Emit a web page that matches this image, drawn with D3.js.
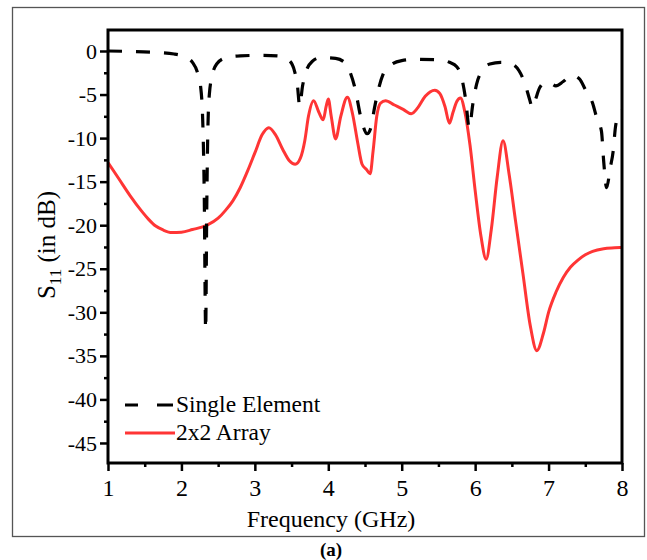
<!DOCTYPE html>
<html>
<head>
  <meta charset="utf-8">
  <title>S11</title>
  <style>
    body { margin: 0; background: #fff; }
    text { font-family: "Liberation Serif", "Times New Roman", serif; fill: #000; }
  </style>
</head>
<body>
<script src="https://d3js.org/d3.v7.min.js"></script>
<script>
  // single element, black dashed
  var singleFreq = [1.0, 1.3, 1.6, 1.9, 2.05, 2.15, 2.22, 2.26, 2.29, 2.31, 2.33, 2.345, 2.36, 2.38, 2.42, 2.48,
    2.6, 2.8, 3.1, 3.35, 3.48, 3.54, 3.58, 3.61, 3.65, 3.7, 3.78, 3.9, 4.1, 4.22, 4.3, 4.37, 4.44, 4.53,
    4.58, 4.63, 4.68, 4.75, 4.85, 5.0, 5.2, 5.5, 5.65, 5.75, 5.82, 5.87, 5.92, 5.97, 6.02, 6.1, 6.2, 6.35,
    6.5, 6.6, 6.68, 6.74, 6.78, 6.82, 6.88, 6.96, 7.03, 7.1, 7.2, 7.32, 7.42, 7.5, 7.6, 7.66, 7.72, 7.75,
    7.79, 7.84, 7.88, 7.91, 7.95, 8.0];
  var singleDb = [0, -0.05, -0.15, -0.35, -0.7, -1.3, -2.5, -4.0, -8, -16, -32, -18, -9, -5, -2.8, -1.5,
    -0.8, -0.55, -0.5, -0.6, -1.2, -2.3, -4, -6.3, -4, -2.3, -1.2, -0.75, -0.85, -1.3, -2.5, -4.5, -7.5, -9.5,
    -8.8, -6.5, -4.5, -2.6, -1.6, -1.1, -0.95, -1.0, -1.3, -1.8, -3.2, -5.5, -8.8, -6, -3.8, -2.2, -1.5, -1.3,
    -1.5, -2.3, -3.8, -5.5, -6.5, -5.6, -4.2, -3.6, -3.7, -4.0, -3.5, -2.8, -3.2, -4.4, -6.0, -7.8, -9.2, -12.6,
    -15.7, -13.4, -11.5, -8.8, -7.4, -6.8];

  // 2x2 array, red solid
  var arrayFreq = [1.0, 1.15, 1.3, 1.45, 1.55, 1.65, 1.75, 1.87, 2.0, 2.15, 2.35, 2.5, 2.6, 2.7, 2.8, 2.9, 3.0, 3.1,
    3.19, 3.28, 3.38, 3.47, 3.55, 3.62, 3.68, 3.73, 3.8, 3.87, 3.93, 3.97, 4.0, 4.04, 4.1, 4.17, 4.26, 4.33,
    4.4, 4.46, 4.52, 4.57, 4.61, 4.66, 4.71, 4.78, 4.9, 5.02, 5.13, 5.22, 5.32, 5.45, 5.52, 5.59, 5.65, 5.7,
    5.75, 5.8, 5.86, 5.93, 6.0, 6.08, 6.15, 6.22, 6.3, 6.38, 6.46, 6.55, 6.65, 6.75, 6.84, 6.93, 7.0, 7.1,
    7.2, 7.3, 7.4, 7.5, 7.6, 7.75, 7.9, 8.0];
  var arrayDb = [-12.8, -14.7, -16.6, -18.3, -19.3, -20.1, -20.55, -20.85, -20.8, -20.5, -20.0, -19.2, -18.3, -17.2,
    -15.7, -13.8, -11.7, -9.6, -8.8, -9.6, -11.3, -12.6, -13.0, -12.3, -10.3, -7.5, -5.7, -7.0, -7.9, -6.4,
    -5.5, -7.5, -10.1, -7.5, -5.3, -7.2, -10.5, -13.0, -13.6, -14.1, -11.5, -7.5, -6.0, -5.7, -6.2, -6.7,
    -7.2, -6.5, -5.2, -4.5, -4.9, -6.4, -8.3, -7.0, -5.8, -5.4, -7.0, -10.8, -16.0, -21.3, -23.9, -20.5,
    -14.5, -10.3, -14, -19.5, -25.5, -31.5, -34.4, -32.4, -30.0, -27.7, -26.0, -24.8, -24.0, -23.4, -23.0,
    -22.7, -22.6, -22.55];

  var xTicks = [1, 2, 3, 4, 5, 6, 7, 8];
  var xMinor = [1.5, 2.5, 3.5, 4.5, 5.5, 6.5, 7.5];
  var yTicks = [0, -5, -10, -15, -20, -25, -30, -35, -40, -45];
  var yMinor = [-2.5, -7.5, -12.5, -17.5, -22.5, -27.5, -32.5, -37.5, -42.5];
  var legendNames = ['Single Element', '2x2 Array'];

  var W = 647, H = 560;
  var pLeft = 108, pTop = 30, pRight = 622, pBottom = 463;

  var svg = d3.select('body').append('svg')
    .attr('width', W)
    .attr('height', H);

  // outer frame
  svg.append('rect')
    .attr('x', 12.5).attr('y', 7.5)
    .attr('width', 632).attr('height', 529)
    .attr('fill', 'none')
    .attr('stroke', '#555')
    .attr('stroke-width', 1.3);

  var x = d3.scaleLinear().domain([1, 8]).range([pLeft, pRight]);
  var y = d3.scaleLinear().domain([-47.3, 2.41]).range([pBottom, pTop]);

  svg.append('clipPath').attr('id', 'clip')
    .append('rect')
      .attr('x', pLeft).attr('y', pTop)
      .attr('width', pRight - pLeft).attr('height', pBottom - pTop);

  var line = d3.line()
    .x(function(d) { return x(d[0]); })
    .y(function(d) { return y(d[1]); })
    .curve(d3.curveMonotoneX);

  var single = singleFreq.map(function(f, i) { return [f, singleDb[i]]; });
  var array2 = arrayFreq.map(function(f, i) { return [f, arrayDb[i]]; });

  var plot = svg.append('g').attr('clip-path', 'url(#clip)');

  plot.append('path')
    .datum(array2)
    .attr('d', line)
    .attr('fill', 'none')
    .attr('stroke', '#ff3535')
    .attr('stroke-width', 3);

  plot.append('path')
    .datum(single)
    .attr('d', line)
    .attr('fill', 'none')
    .attr('stroke', '#000')
    .attr('stroke-width', 3.2)
    .attr('stroke-dasharray', '14,14');

  // axes
  var fmt = function(d) { return String(d); };
  var xAxis = svg.append('g')
    .attr('transform', 'translate(0,' + pBottom + ')')
    .call(d3.axisBottom(x).tickValues(xTicks).tickFormat(fmt)
      .tickSize(8).tickSizeOuter(0).tickPadding(8));
  var xAxisMinor = svg.append('g')
    .attr('transform', 'translate(0,' + pBottom + ')')
    .call(d3.axisBottom(x).tickValues(xMinor).tickFormat('')
      .tickSize(4).tickSizeOuter(0));
  var yAxis = svg.append('g')
    .attr('transform', 'translate(' + pLeft + ',0)')
    .call(d3.axisLeft(y).tickValues(yTicks).tickFormat(fmt)
      .tickSize(8).tickSizeOuter(0).tickPadding(3));
  var yAxisMinor = svg.append('g')
    .attr('transform', 'translate(' + pLeft + ',0)')
    .call(d3.axisLeft(y).tickValues(yMinor).tickFormat('')
      .tickSize(4).tickSizeOuter(0));

  [xAxis, xAxisMinor, yAxis, yAxisMinor].forEach(function(a) {
    a.select('.domain').remove();
    a.selectAll('line').attr('stroke', '#000').attr('stroke-width', 2.5);
    a.selectAll('text')
      .style('font-family', '"Liberation Serif", "Times New Roman", serif')
      .attr('fill', '#000');
  });
  xAxis.selectAll('text').style('font-size', '24px');
  yAxis.selectAll('text').style('font-size', '22px');

  // plot box
  svg.append('rect')
    .attr('x', pLeft).attr('y', pTop)
    .attr('width', pRight - pLeft).attr('height', pBottom - pTop)
    .attr('fill', 'none')
    .attr('stroke', '#000')
    .attr('stroke-width', 3);

  // axis titles
  svg.append('text')
    .attr('x', 331).attr('y', 527)
    .attr('text-anchor', 'middle')
    .style('font-size', '24px')
    .text('Frequency (GHz)');

  var yl = svg.append('text')
    .attr('transform', 'translate(55,245) rotate(-90)')
    .attr('text-anchor', 'middle')
    .style('font-size', '25px');
  yl.append('tspan').text('S');
  yl.append('tspan').attr('dy', 6).style('font-size', '17px').text('11');
  yl.append('tspan').attr('dy', -6).text(' (in dB)');

  svg.append('text')
    .attr('x', 331).attr('y', 556)
    .attr('text-anchor', 'middle')
    .style('font-size', '19px')
    .style('font-weight', 'bold')
    .text('(a)');

  // legend
  var legend = svg.append('g');
  legend.append('line')
    .attr('x1', 125).attr('x2', 173).attr('y1', 405).attr('y2', 405)
    .attr('stroke', '#000').attr('stroke-width', 3.2)
    .attr('stroke-dasharray', '13,19,16');
  legend.append('line')
    .attr('x1', 125).attr('x2', 175).attr('y1', 433).attr('y2', 433)
    .attr('stroke', '#ff3535').attr('stroke-width', 3);
  legend.selectAll('text.lg')
    .data(legendNames)
    .enter().append('text')
      .attr('class', 'lg')
      .attr('x', 176)
      .attr('y', function(d, i) { return 412 + i * 28; })
      .style('font-size', '23.5px')
      .text(function(d) { return d; });
</script>
</body>
</html>
